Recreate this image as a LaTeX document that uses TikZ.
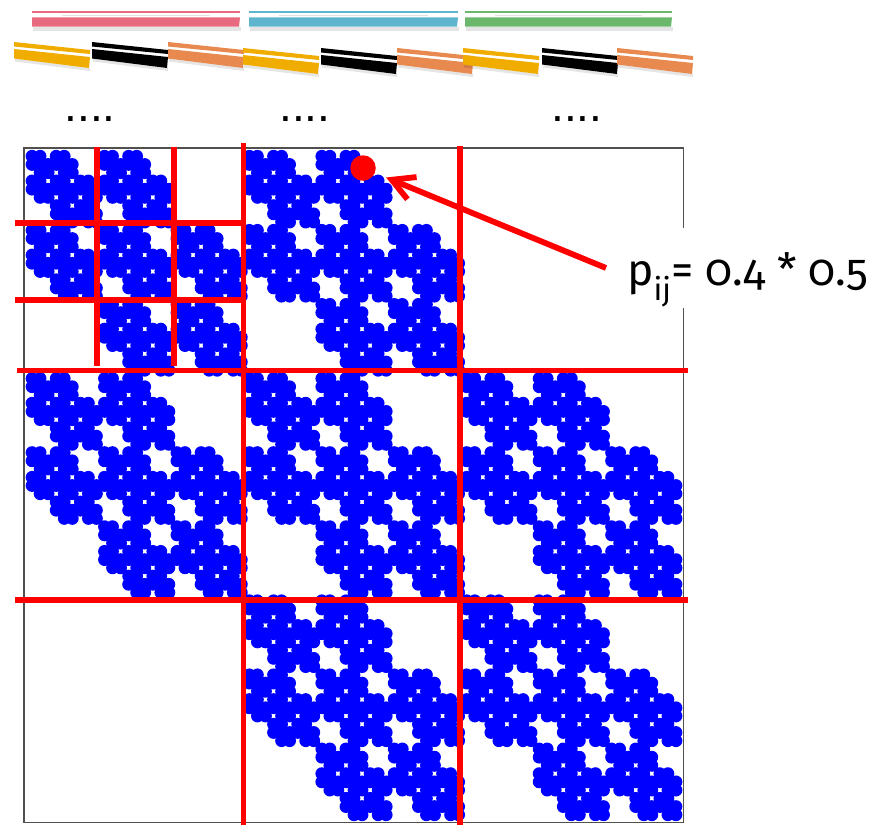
\documentclass[tikz,border=0pt]{standalone}
\usepackage{fontspec}
\newfontfamily\lblfont{Fira Sans}[Numbers=OldStyle]
\newfontfamily\dotfont{Liberation Sans}
\usetikzlibrary{arrows.meta}
\definecolor{spyblue}{HTML}{0000FF}
\definecolor{gridred}{HTML}{FF0000}
\definecolor{barpink}{HTML}{E86A7E}
\definecolor{barblue}{HTML}{5EB5CE}
\definecolor{bargreen}{HTML}{6BB76B}
\definecolor{segyellow}{HTML}{F0AD00}
\definecolor{segorange}{HTML}{E8894F}
\definecolor{framegray}{HTML}{505050}
\newcommand\longbar[3]{%
  \fill[black,opacity=0.10] (#1+1,26.7) rectangle (#2+1,30.5);
  \fill[#3] (#1,11) rectangle (#2,13.3);
  \fill[black!12] (#1+30,14.9) rectangle (#2-30,15.7);
  \fill[#3] (#1,17.3) -- (#2,17.3) -- (#2-1,26.7) -- (#1,26.7) -- cycle;
}
\newcommand\segpiece[3]{%
  \fill[black,opacity=0.10] (#1+1,#2+16.5) -- (#1+76,#2+26) -- (#1+76,#2+29) -- (#1+1,#2+19.5) -- cycle;
  \fill[#3] (#1,#2) -- (#1+76,#2+8) -- (#1+76,#2+12) -- (#1,#2+4.5) -- cycle;
  \fill[#3] (#1,#2+7) -- (#1+76,#2+15) -- (#1+75,#2+26) -- (#1,#2+16.5) -- cycle;
}
\def\kpairs{0/0,0/1,1/0,1/1,1/2,2/1,2/2}
\begin{document}
\begin{tikzpicture}[x=1pt,y=-1pt,
  redline/.style={draw=gridred,line width=5.8pt},
  dotrow/.style={anchor=base west,inner sep=0pt,font=\dotfont\fontsize{46}{50}\selectfont},
  spydot/.style={fill=spyblue}]
\useasboundingbox (0,0) rectangle (881,825);
% top bars
\longbar{32}{240}{barpink}
\longbar{249}{458}{barblue}
\longbar{465}{672}{bargreen}
% segments
\segpiece{14}{42}{segyellow}
\segpiece{92}{42}{black}
\segpiece{168}{42}{segorange}
\segpiece{243}{48}{segyellow}
\segpiece{321}{48}{black}
\segpiece{397}{48}{segorange}
\segpiece{463}{48}{segyellow}
\segpiece{542}{48}{black}
\segpiece{617}{48}{segorange}
% dots
\node[dotrow] (d1) at (64.4,121) {....};
\node[dotrow] (d2) at (279.2,121) {....};
\node[dotrow] (d3) at (551.2,121) {....};
% frame
\draw[framegray,line width=1.5pt] (24,148) rectangle (683.5,822.5);
% kronecker pattern
\foreach \ra/\ca in \kpairs {
 \foreach \rb/\cb in \kpairs {
  \foreach \rc/\cc in \kpairs {
   \foreach \rd/\cd in \kpairs {
     \pgfmathsetmacro\px{24+(27*\ca+9*\cb+3*\cc+\cd+1)*8.049}
     \pgfmathsetmacro\py{148+(27*\ra+9*\rb+3*\rc+\rd+1)*8.232}
     \fill[spydot] (\px,\py) circle[radius=6.4];
}}}}
% red grid
\draw[redline] (97,147) -- (97,365.7);
\draw[redline] (174,147) -- (174,365.7);
\draw[redline] (15,223) -- (241,223);
\draw[redline] (15,300) -- (241,300);
\draw[redline] (243.5,143) -- (243.5,825);
\draw[redline] (460,146) -- (460,825);
\draw[redline] (17,370.5) -- (688,370.5);
\draw[redline] (15,600) -- (688,600);
% label
\node[anchor=west,fill=white,inner xsep=21pt,inner ysep=0pt,text height=57pt,text depth=23pt,
  font=\lblfont\fontsize{44.5}{52}\selectfont] (lbl) at (606,268) {p\textsubscript{ij}= 0.4 * 0.5};
\node[circle,fill=gridred,minimum size=25.5pt,inner sep=0pt] (pdot) at (363,168) {};
\draw[redline,-{Straight Barb[length=22pt,width=24pt]},shorten >=12pt] (lbl.west) -- (pdot);
\end{tikzpicture}
\end{document}
